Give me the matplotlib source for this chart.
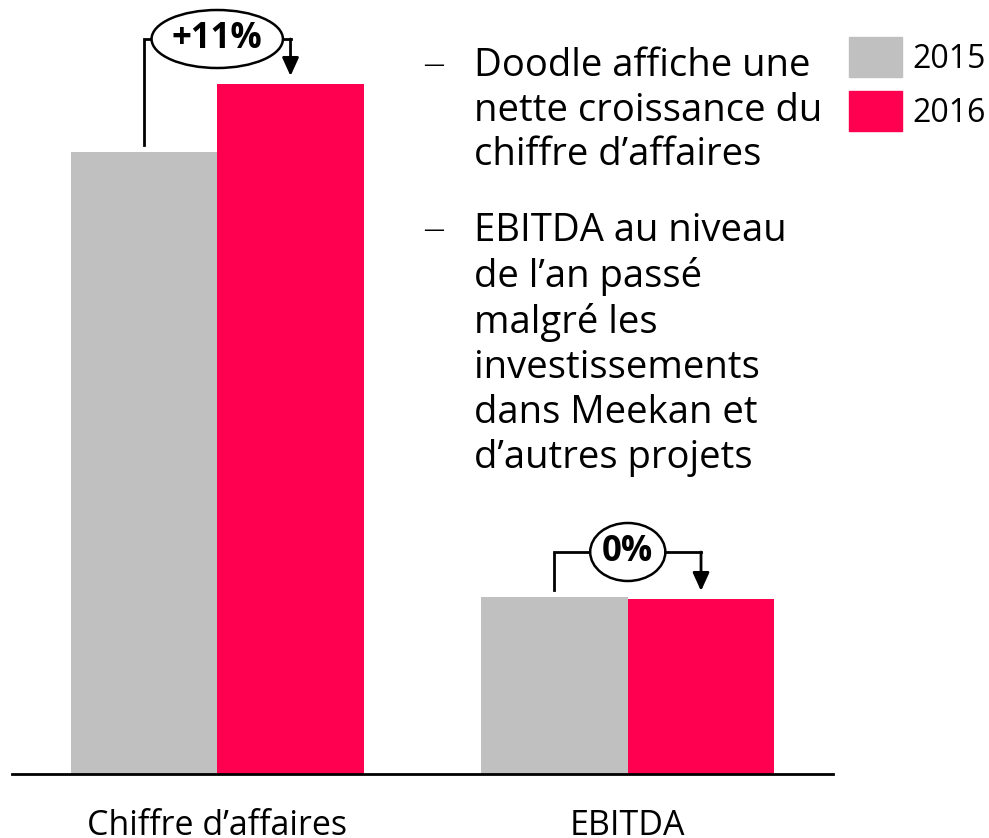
import matplotlib
matplotlib.use("Agg")
import matplotlib.pyplot as plt
from matplotlib.patches import Ellipse, Patch
import numpy as np

# data (arbitrary units)
categories = ["Chiffre d\u2019affaires", "EBITDA"]
years = ["2015", "2016"]
values_2015 = [622, 177]
values_2016 = [690, 175]
change_labels = ["+11%", "0%"]

grey = "#C0C0C0"
red = "#FF0050"

plt.rcParams['font.family'] = ['Open Sans', 'DejaVu Sans']

W, H = 989, 838
fig = plt.figure(figsize=(W / 100, H / 100), dpi=100)
ax = fig.add_axes([12 / W, (H - 774) / H, (833 - 12) / W, 774 / H])

x = np.arange(len(categories))
bw = 0.357
ax.bar(x - bw / 2, values_2015, bw, color=grey, label=years[0])
ax.bar(x + bw / 2, values_2016, bw, color=red, label=years[1])

ax.set_xlim(-0.5, 1.5)
ax.set_ylim(0, 774)
for s in ["top", "left", "right"]:
    ax.spines[s].set_visible(False)
ax.spines["bottom"].set_linewidth(2)
ax.set_yticks([])
ax.set_xticks(x)
ax.set_xticklabels(categories, fontsize=24.5)
ax.tick_params(axis="x", length=0, pad=25)

# brackets with growth bubbles
ell_w = [0.32, 0.183]
for i in range(len(categories)):
    v1, v2 = values_2015[i], values_2016[i]
    level = max(v1, v2) + 45
    x1, x2 = i - bw / 2, i + bw / 2
    ax.plot([x1, x1, x2, x2], [v1 + 7, level, level, level], color="black", lw=2,
            solid_joinstyle="miter", zorder=3)
    ax.annotate("", xy=(x2, v2 + 8), xytext=(x2, level),
                arrowprops=dict(arrowstyle="-|>,head_length=1.1,head_width=0.5",
                                color="black", lw=2, shrinkA=0, shrinkB=0))
    ax.add_patch(Ellipse((i, level), ell_w[i], 58, facecolor="white",
                         edgecolor="black", lw=1.8, zorder=4))
    ax.text(i, level, change_labels[i], ha="center", va="center", fontsize=25,
            fontweight="bold", zorder=5)

# comments
fig.text(423 / W, 1 - 65 / H, "\u2014", fontsize=15, va="center", ha="left")
fig.text(474 / W, 1 - 47 / H, "Doodle affiche une\nnette croissance du\nchiffre d\u2019affaires",
         fontsize=27.5, va="top", ha="left", linespacing=1.23)
fig.text(423 / W, 1 - 230 / H, "\u2014", fontsize=15, va="center", ha="left")
fig.text(474 / W, 1 - 212 / H,
         "EBITDA au niveau\nde l\u2019an passé\nmalgré les\ninvestissements\ndans Meekan et\nd\u2019autres projets",
         fontsize=27.5, va="top", ha="left", linespacing=1.24)

handles = [Patch(color=grey), Patch(color=red)]
fig.legend(handles, years, loc="upper left", bbox_to_anchor=(849 / W, 1 - 37 / H),
           frameon=False, fontsize=23, handlelength=1.66, handleheight=1.55,
           handletextpad=0.31, labelspacing=0.45, borderpad=0, borderaxespad=0)

fig.savefig("out.png", dpi=100)
